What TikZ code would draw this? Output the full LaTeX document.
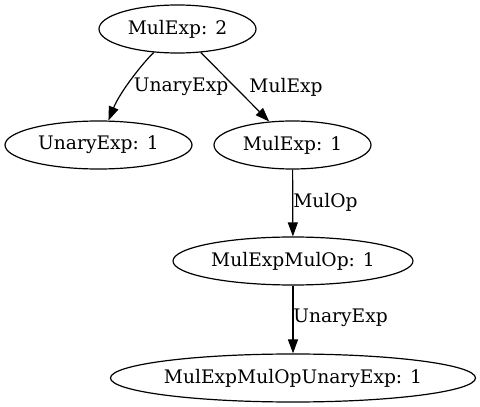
\documentclass[tikz,border=0pt]{standalone}
\usepackage{fontspec}
\setmainfont{DejaVu Serif}
\usetikzlibrary{shapes.geometric,arrows.meta}
\begin{document}
\begin{tikzpicture}[x=0.75pt,y=-0.75pt,
  every node/.style={font=\fontsize{14pt}{16pt}\selectfont},
  gnode/.style={draw,ellipse,inner sep=0pt,minimum height=48*0.75pt,line width=0.9pt},
  elabel/.style={inner sep=0pt},
  edge/.style={line width=0.9pt,-{Triangle[length=10.5pt,width=7.5pt]}}]
\useasboundingbox (0,0) rectangle (480,407);
\node[gnode,minimum width=157*0.75pt] (m2) at (177.5,29) {MulExp: 2};
\node[gnode,minimum width=187*0.75pt] (u1) at (98.5,145) {UnaryExp: 1};
\node[gnode,minimum width=157*0.75pt] (m1) at (292.5,145) {MulExp: 1};
\node[gnode,minimum width=240*0.75pt] (mo) at (293,261) {MulExpMulOp: 1};
\node[gnode,minimum width=364*0.75pt] (mou) at (293,378) {MulExpMulOpUnaryExp: 1};
\draw[edge] (m2) .. controls (142,64) and (120,92) .. (u1);
\draw[edge] (m2) -- (m1);
\draw[edge] (m1) -- (mo);
\draw[edge] (mo) -- (mou);
\node[elabel] (l1) at (181,87) {UnaryExp};
\node[elabel] (l2) at (286,87) {MulExp};
\node[elabel] (l3) at (325.5,202) {MulOp};
\node[elabel] (l4) at (340.5,318) {UnaryExp};
\end{tikzpicture}
\end{document}
